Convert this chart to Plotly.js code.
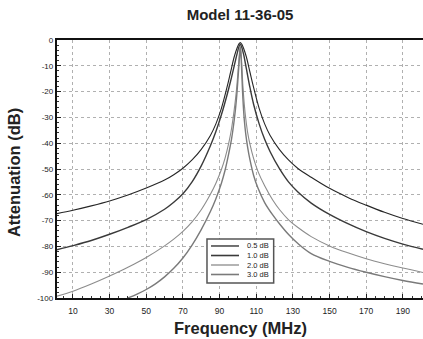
<!DOCTYPE html>
<html>
<head>
<meta charset="utf-8">
<script src="https://cdn.plot.ly/plotly-3.0.1.min.js"></script>
<style>html,body{margin:0;padding:0;background:#fff;}#chart{width:423px;height:339px;}</style>
</head>
<body>
<div id="chart"></div>
<script>
var seriesNames = ["0.5 dB", "1.0 dB", "2.0 dB", "3.0 dB"];

var freqA = [1.3, 10, 20, 30, 40, 50, 60, 65, 70, 75, 80, 85, 88, 91, 94, 96, 98, 99.5, 100.5, 101.3,
             102.1, 103.1, 104.6, 106.6, 108.6, 111.6, 114.6, 117.6, 122.6, 127.6, 132.6, 140, 150, 160, 170, 180, 190, 201];
var attA  = [-67.3, -66.0, -64.3, -62.4, -60.1, -57.4, -54.3, -52.2, -49.7, -46.5, -42.4, -37, -32.5, -26.5, -18.5, -12.5, -6.5, -3.2, -1.6, -1.0,
             -1.6, -3.2, -6.5, -12.5, -18.5, -26.5, -32.5, -37, -42.4, -46.5, -49.7, -53.2, -57.5, -61, -64, -66.8, -69.2, -71.4];

var freqB = [1.3, 10, 20, 30, 40, 50, 60, 65, 70, 75, 80, 85, 88, 91, 94, 96, 98, 99.5, 100.5, 101.3,
             102.1, 103.1, 104.6, 106.6, 108.6, 111.6, 114.6, 117.6, 122.6, 127.6, 132.6, 140, 150, 160, 170, 180, 190, 201];
var attB  = [-81.3, -79.7, -77.7, -75.3, -72.6, -69.6, -65.6, -62.9, -59.6, -55, -48.8, -41, -35.5, -29, -21.5, -16, -10, -5.5, -2.8, -1.6,
             -2.8, -5.5, -11, -18.5, -25, -32.5, -38.5, -43.3, -49.8, -55, -58.8, -63.2, -67.6, -71.2, -74.3, -76.9, -79.1, -81.1];

var freqC = [1.3, 10, 20, 30, 40, 50, 60, 65, 70, 75, 80, 85, 88, 91, 93, 95, 96.5, 98, 99.2, 100.2, 100.8, 101.3,
             101.8, 102.3, 102.8, 103.5, 104.3, 105.3, 106.6, 108.6, 111, 114.6, 119, 123, 127.8, 132.6, 140, 150, 160, 170, 180, 190, 201];
var attC  = [-99.3, -97.4, -94.6, -91.5, -88.1, -84.3, -79.8, -77.2, -74.2, -70.5, -65.8, -59.8, -55.5, -50.2, -45.8, -40, -34.5, -27, -19.5, -11, -5.5, -2.2,
             -5.5, -12, -18.5, -25, -30.5, -35.8, -40.5, -46, -51, -56.5, -62, -66, -69.8, -72.6, -76.2, -79.8, -82.5, -84.8, -86.7, -88.4, -90.1];

var freqD = [40, 45, 50, 55, 60, 65, 70, 75, 80, 85, 88, 91, 93, 95, 96.5, 98, 99.2, 100.2, 100.8, 101.3,
             101.8, 102.3, 102.8, 103.5, 104.3, 105.3, 106.6, 108.6, 111, 114.6, 119, 123, 127.8, 132.6, 140, 150, 160, 170, 180, 190, 201];
var attD  = [-100, -98.5, -96.7, -94.5, -91.8, -88.5, -84.5, -79.5, -73.5, -66.5, -61.5, -55.5, -50.5, -44, -38.5, -31, -23, -13.5, -7.2, -2.9,
             -7.5, -16, -23.5, -31, -36.5, -41.5, -46.5, -52.5, -57.5, -63, -67.8, -71.5, -75.5, -78.8, -82.8, -85.8, -88.1, -90, -91.7, -93.2, -94.6];

var xTickVals = [10, 30, 50, 70, 90, 110, 130, 150, 170, 190];
var yTickVals = [0, -10, -20, -30, -40, -50, -60, -70, -80, -90, -100];

var colors = ["#262626", "#3a3a3a", "#8c8c8c", "#7a7a7a"];
var widths = [1.1, 1.4, 1.1, 1.4];
var xs = [freqA, freqB, freqC, freqD];
var ys = [attA, attB, attC, attD];

var traces = seriesNames.map(function(n, i){
  return {x: xs[i], y: ys[i], name: n, type: "scatter", mode: "lines", showlegend: false,
          line: {color: colors[i], width: widths[i], shape: "spline", smoothing: 1}};
});

// hand-drawn legend box (paper coordinates)
var lgX0 = 0.4098, lgX1 = 0.592, lgY0 = 0.058, lgY1 = 0.229;
var lgRows = [0.2016, 0.1647, 0.1279, 0.0911];
var shapes = [{type: "rect", xref: "paper", yref: "paper", x0: lgX0, x1: lgX1, y0: lgY0, y1: lgY1,
               fillcolor: "#fff", line: {color: "#555", width: 1.5}, layer: "above"}];
var annotations = [];
seriesNames.forEach(function(n, i){
  shapes.push({type: "line", xref: "paper", yref: "paper", x0: 0.4208, x1: 0.4973, y0: lgRows[i], y1: lgRows[i],
               line: {color: colors[i], width: widths[i] + 0.2}, layer: "above"});
  annotations.push({xref: "paper", yref: "paper", x: 0.584, y: lgRows[i], xanchor: "right", yanchor: "middle",
                    text: n, showarrow: false, font: {size: 7.5, color: "#222"}});
});
annotations.push({xref: "paper", yref: "paper", x: 0.5, y: -0.118, xanchor: "center", yanchor: "middle",
                  text: "<b>Frequency (MHz)</b>", showarrow: false, font: {size: 16.5, color: "#222"}});
annotations.push({xref: "paper", yref: "paper", x: -0.1175, y: 0.488, xanchor: "center", yanchor: "middle",
                  text: "<b>Attenuation (dB)</b>", textangle: -90, showarrow: false, font: {size: 16.5, color: "#222"}});

var layout = {
  width: 423, height: 339,
  margin: {l: 57, r: 0, t: 40, b: 41},
  paper_bgcolor: "#fff", plot_bgcolor: "#fff",
  font: {family: "Liberation Sans, Arial, sans-serif", color: "#222", size: 8},
  title: {text: "<b>Model 11-36-05</b>", x: 0.5675, xanchor: "center", y: 0.957, yanchor: "middle",
          font: {size: 15, color: "#222"}},
  showlegend: false,
  shapes: shapes,
  annotations: annotations,
  xaxis: {range: [1.3, 201], tickvals: xTickVals, ticktext: xTickVals.map(String),
          ticks: "inside", ticklen: 4, tickcolor: "#222", ticklabelstandoff: 4,
          showgrid: true, gridcolor: "#b0b0b0", griddash: "dot", gridwidth: 1,
          showline: true, linecolor: "#111", linewidth: 2.2, mirror: true,
          zeroline: false, tickfont: {size: 8.5},
          minor: {dtick: 5, tick0: 0, ticks: "inside", ticklen: 2, tickcolor: "#333", showgrid: false}},
  yaxis: {range: [-100, 0], tickvals: yTickVals, ticktext: yTickVals.map(String),
          ticks: "inside", ticklen: 4, tickcolor: "#222",
          showgrid: true, gridcolor: "#b0b0b0", griddash: "dot", gridwidth: 1,
          showline: true, linecolor: "#111", linewidth: 2.2, mirror: false,
          zeroline: false, tickfont: {size: 8},
          minor: {dtick: 2, ticks: "inside", ticklen: 2, tickcolor: "#333", showgrid: false}}
};

Plotly.newPlot("chart", traces, layout, {staticPlot: true, displayModeBar: false});
</script>
</body>
</html>
